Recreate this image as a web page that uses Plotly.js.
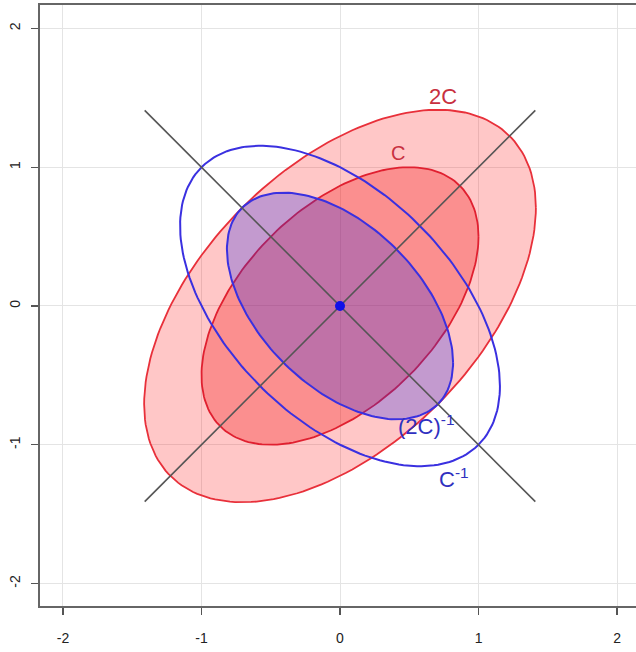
<!DOCTYPE html>
<html>
<head>
<meta charset="utf-8">
<script src="https://cdn.plot.ly/plotly-3.0.1.min.js"></script>
<style>html,body{margin:0;padding:0;background:#fff;}#plot{width:636px;height:652px;}</style>
</head>
<body>
<div id="plot"></div>
<script>
// Covariance matrix C and derived matrices
const covC = [[1, 0.5], [0.5, 1]];
const scale2 = 2;
const tickVals = [-2, -1, 0, 1, 2];
const tickText = ["-2", "-1", "0", "1", "2"];
const axisLineEnds = [-1.41, 1.41];
const center = [0, 0];
const labelNames = ["2C", "C", "(2C)<sup>-1</sup>", "C<sup>-1</sup>"];
const labelX = [0.74, 0.42, 0.62, 0.82];
const labelY = [1.51, 1.10, -0.86, -1.24];

function mscale(M, k) { return M.map(r => r.map(v => v * k)); }
function minv(M) {
  const d = M[0][0] * M[1][1] - M[0][1] * M[1][0];
  return [[M[1][1] / d, -M[0][1] / d], [-M[1][0] / d, M[0][0] / d]];
}
function ellipse(M) {
  const a = M[0][0], b = M[0][1], c = M[1][1];
  const l11 = Math.sqrt(a), l21 = b / l11, l22 = Math.sqrt(c - l21 * l21);
  const xs = [], ys = [];
  for (let i = 0; i <= 200; i++) {
    const t = 2 * Math.PI * i / 200;
    const u = Math.cos(t), v = Math.sin(t);
    xs.push(center[0] + l11 * u);
    ys.push(center[1] + l21 * u + l22 * v);
  }
  return {x: xs, y: ys};
}
const M2C = mscale(covC, scale2);
const MC = covC;
const M2Cinv = minv(M2C);
const MCinv = minv(covC);

const e2C = ellipse(M2C), eC = ellipse(MC), e2Ci = ellipse(M2Cinv), eCi = ellipse(MCinv);

const traces = [
  {x: e2C.x, y: e2C.y, mode: 'lines', fill: 'toself', fillcolor: 'rgba(255,0,0,0.22)', line: {color: '#e8303a', width: 1.8}, hoverinfo: 'skip'},
  {x: eC.x, y: eC.y, mode: 'lines', fill: 'toself', fillcolor: 'rgba(240,0,0,0.28)', line: {color: '#e02030', width: 1.8}, hoverinfo: 'skip'},
  {x: e2Ci.x, y: e2Ci.y, mode: 'lines', fill: 'toself', fillcolor: 'rgba(40,40,230,0.28)', line: {color: '#3a30e0', width: 2}, hoverinfo: 'skip'},
  {x: eCi.x, y: eCi.y, mode: 'lines', line: {color: '#3a30e0', width: 2}, hoverinfo: 'skip'},
  {x: axisLineEnds, y: axisLineEnds, mode: 'lines', line: {color: '#555555', width: 1.6}, hoverinfo: 'skip'},
  {x: axisLineEnds, y: axisLineEnds.map(v => -v), mode: 'lines', line: {color: '#555555', width: 1.6}, hoverinfo: 'skip'},
  {x: [center[0]], y: [center[1]], mode: 'markers', marker: {color: '#1010e8', size: 10}, hoverinfo: 'skip'}
];

const labelColors = ['#c83040', '#c83040', '#3030c0', '#3030c0'];
const labelSizes = [22, 20, 22, 22];
const annotations = labelNames.map((t, i) => ({
  x: labelX[i], y: labelY[i], text: t, showarrow: false,
  font: {family: 'Liberation Sans, Arial, sans-serif', size: labelSizes[i], color: labelColors[i]},
  xanchor: 'center', yanchor: 'middle'
}));

const axisCommon = {
  tickvals: tickVals, ticktext: tickText, ticks: 'outside', ticklen: 7, tickwidth: 1.2, tickcolor: '#555',
  showline: true, linecolor: '#666', linewidth: 1.6, mirror: true,
  showgrid: true, gridcolor: '#e4e4e4', gridwidth: 1, zeroline: false,
  tickfont: {family: 'Liberation Sans, Arial, sans-serif', size: 14, color: '#222'}
};

const layout = {
  width: 636, height: 652,
  margin: {l: 40, r: 0, t: 5, b: 46},
  paper_bgcolor: '#fff', plot_bgcolor: '#fff',
  showlegend: false,
  xaxis: Object.assign({}, axisCommon, {range: [-2.166, 2.137], ticklabelstandoff: 12}),
  yaxis: Object.assign({}, axisCommon, {range: [-2.162, 2.169], tickangle: -90, ticklabelstandoff: 6}),
  annotations: annotations
};

Plotly.newPlot('plot', traces, layout, {displayModeBar: false, staticPlot: true});
</script>
</body>
</html>
